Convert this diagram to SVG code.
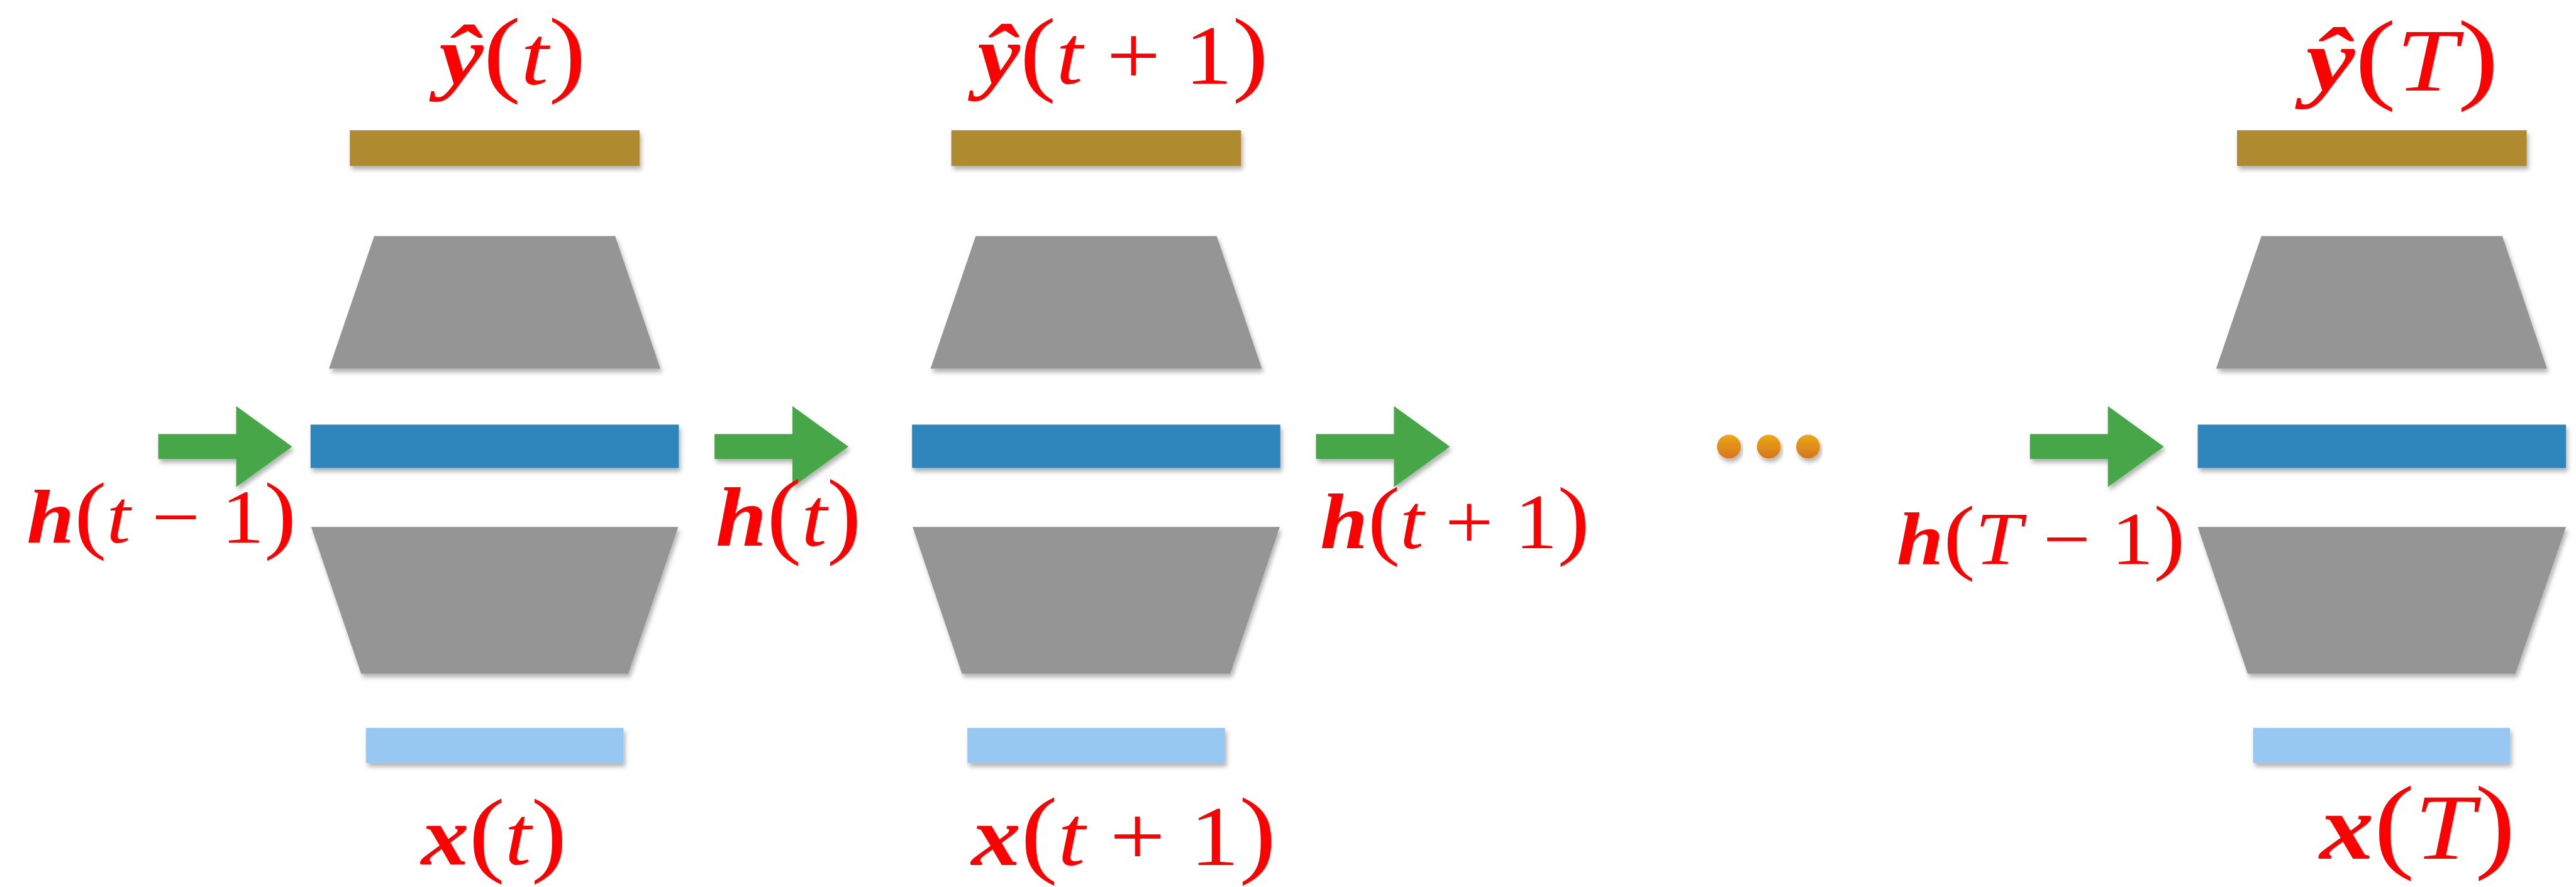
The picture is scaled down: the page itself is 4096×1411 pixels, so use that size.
<svg xmlns="http://www.w3.org/2000/svg" width="4096" height="1411" viewBox="0 0 4096 1411">
  <style>
    .lbl { font-family: "Liberation Serif", "DejaVu Serif", serif; fill: #FF0000; }
    .bi { font-weight: bold; font-style: italic; }
    .i { font-style: italic; }
    .p { font-size: 1.13em; }
    .out { fill: #AF8A2F; }
    .trap { fill: #959595; }
    .hid { fill: #2F86BD; }
    .inp { fill: #97C8F1; }
    .arrow { fill: #46A646; }
    .dot { fill: url(#dotGrad); }
  </style>
  <defs>
    <filter id="sh" x="-10%" y="-30%" width="120%" height="170%">
      <feDropShadow dx="3" dy="6" stdDeviation="4" flood-color="#000" flood-opacity="0.3"/>
    </filter>
    <linearGradient id="dotGrad" x1="0" y1="0" x2="0" y2="1">
      <stop offset="0" stop-color="#ECA815"/>
      <stop offset="1" stop-color="#D4751F"/>
    </linearGradient>
    <polygon id="arr" points="0,-21 131,-21 131,-68 225,0 131,68 131,21 0,21"/>
  </defs>
  <rect width="4096" height="1411" fill="#FFFFFF"/>
  <g transform="scale(0.946)">
    <!-- Module t -->
    <g id="node-t">
      <rect class="out" x="588" y="219" width="487" height="60" filter="url(#sh)"/>
      <polygon class="trap" points="629,397 1034,397 1110,620 553,620" filter="url(#sh)"/>
      <rect class="hid" x="522" y="714" width="619" height="73" filter="url(#sh)"/>
      <polygon class="trap" points="523,886 1140,886 1056,1133 607,1133" filter="url(#sh)"/>
      <rect class="inp" x="615" y="1224" width="433" height="59" filter="url(#sh)"/>
      <text class="lbl" x="738" y="142" font-size="142" textLength="247" lengthAdjust="spacingAndGlyphs"><tspan class="bi">ŷ</tspan><tspan class="p">(</tspan><tspan class="i">t</tspan><tspan class="p">)</tspan></text>
      <text class="lbl" x="708" y="1454" font-size="140" textLength="245" lengthAdjust="spacingAndGlyphs"><tspan class="bi">x</tspan><tspan class="p">(</tspan><tspan class="i">t</tspan><tspan class="p">)</tspan></text>
    </g>
    <!-- Module t+1 -->
    <g id="node-t1">
      <rect class="out" x="1599" y="219" width="487" height="60" filter="url(#sh)"/>
      <polygon class="trap" points="1640,397 2045,397 2121,620 1564,620" filter="url(#sh)"/>
      <rect class="hid" x="1533" y="714" width="619" height="73" filter="url(#sh)"/>
      <polygon class="trap" points="1534,886 2151,886 2068,1133 1617,1133" filter="url(#sh)"/>
      <rect class="inp" x="1626" y="1224" width="433" height="59" filter="url(#sh)"/>
      <text class="lbl" x="1643" y="141" font-size="140" textLength="489" lengthAdjust="spacingAndGlyphs"><tspan class="bi">ŷ</tspan><tspan class="p">(</tspan><tspan class="i">t</tspan> + 1<tspan class="p">)</tspan></text>
      <text class="lbl" x="1633" y="1455" font-size="144" textLength="512" lengthAdjust="spacingAndGlyphs"><tspan class="bi">x</tspan><tspan class="p">(</tspan><tspan class="i">t</tspan> + 1<tspan class="p">)</tspan></text>
    </g>
    <!-- Module T -->
    <g id="node-T">
      <rect class="out" x="3760" y="219" width="487" height="60" filter="url(#sh)"/>
      <polygon class="trap" points="3801,397 4206,397 4281,620 3725,620" filter="url(#sh)"/>
      <rect class="hid" x="3694" y="714" width="619" height="73" filter="url(#sh)"/>
      <polygon class="trap" points="3694,886 4313,886 4228,1133 3778,1133" filter="url(#sh)"/>
      <rect class="inp" x="3787" y="1224" width="432" height="59" filter="url(#sh)"/>
      <text class="lbl" x="3876" y="152" font-size="150" textLength="324" lengthAdjust="spacingAndGlyphs"><tspan class="bi">ŷ</tspan><tspan class="p">(</tspan><tspan class="i">T</tspan><tspan class="p">)</tspan></text>
      <text class="lbl" x="3899" y="1444" font-size="156" textLength="329" lengthAdjust="spacingAndGlyphs"><tspan class="bi">x</tspan><tspan class="p">(</tspan><tspan class="i">T</tspan><tspan class="p">)</tspan></text>
    </g>
    <!-- Ellipsis -->
    <g id="ellipsis">
      <circle class="dot" cx="2906" cy="751" r="20" filter="url(#sh)"/>
      <circle class="dot" cx="2973" cy="751" r="20" filter="url(#sh)"/>
      <circle class="dot" cx="3039" cy="751" r="20" filter="url(#sh)"/>
    </g>
    <!-- Connectors: recurrent hidden-state arrows -->
    <g id="connectors">
      <use href="#arr" class="arrow" x="266" y="751" filter="url(#sh)"/>
      <use href="#arr" class="arrow" x="1201" y="751" filter="url(#sh)"/>
      <use href="#arr" class="arrow" x="2212" y="751" filter="url(#sh)"/>
      <use href="#arr" class="arrow" x="3412" y="751" filter="url(#sh)"/>
    </g>
    <!-- Hidden state labels -->
    <g id="labels-h">
      <text class="lbl" x="45" y="912" font-size="128" textLength="453" lengthAdjust="spacingAndGlyphs"><tspan class="bi">h</tspan><tspan class="p">(</tspan><tspan class="i">t</tspan> − 1<tspan class="p">)</tspan></text>
      <text class="lbl" x="1203" y="918" font-size="142" textLength="245" lengthAdjust="spacingAndGlyphs"><tspan class="bi">h</tspan><tspan class="p">(</tspan><tspan class="i">t</tspan><tspan class="p">)</tspan></text>
      <text class="lbl" x="2219" y="922" font-size="131" textLength="453" lengthAdjust="spacingAndGlyphs"><tspan class="bi">h</tspan><tspan class="p">(</tspan><tspan class="i">t</tspan> + 1<tspan class="p">)</tspan></text>
      <text class="lbl" x="3188" y="948" font-size="125" textLength="485" lengthAdjust="spacingAndGlyphs"><tspan class="bi">h</tspan><tspan class="p">(</tspan><tspan class="i">T</tspan> − 1<tspan class="p">)</tspan></text>
    </g>
  </g>
</svg>
